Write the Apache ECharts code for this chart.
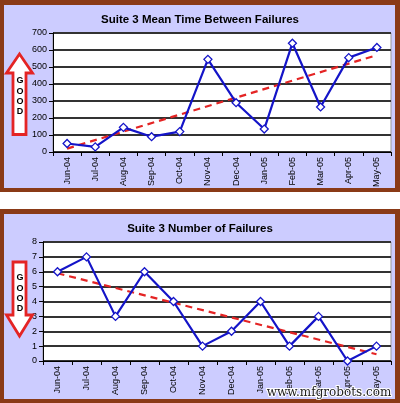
<!DOCTYPE html>
<html><head><meta charset="utf-8">
<script src="https://cdn.jsdelivr.net/npm/echarts@6/dist/echarts.min.js"></script>
<style>html,body{margin:0;padding:0;background:#fff}#c{width:400px;height:403px}</style>
</head><body><div id="c"></div>
<script>
const categories = ['Jun-04','Jul-04','Aug-04','Sep-04','Oct-04','Nov-04','Dec-04','Jan-05','Feb-05','Mar-05','Apr-05','May-05'];
const mtbf = [50,30,145,90,120,545,290,135,640,265,555,615];
const failures = [6,7,3,6,4,1,2,4,1,3,0,1];
const mtbfTrend = [20, 570];   // trendline value at first and last month
const failTrend = [5.9, 0.45]; // trendline value at first and last month
const mtbfTicks = [0,100,200,300,400,500,600,700];
const failTicks = [0,1,2,3,4,5,6,7,8];
const titles = ['Suite 3 Mean Time Between Failures','Suite 3 Number of Failures'];

const chart = echarts.init(document.getElementById('c'), null, {renderer:'canvas'});
const BROWN = '#8a3a17', LAV = '#ccccff', RED = '#e42424', BLUE = '#1414c8';
function xAxis(gi){
  return {type:'category', gridIndex:gi, data:categories, boundaryGap:true,
    axisLine:{lineStyle:{color:'#000',width:1}},
    axisTick:{show:true, alignWithLabel:false, length:4, lineStyle:{color:'#000'}},
    axisLabel:{rotate:90, fontSize:9, color:'#000', fontFamily:'Liberation Sans, Arial', margin:5, interval:0},
    splitLine:{show:false}};
}
function yAxis(gi, ticks){
  return {type:'value', gridIndex:gi, min:ticks[0], max:ticks[ticks.length-1], interval:ticks[1]-ticks[0],
    axisLine:{show:true, lineStyle:{color:'#000'}},
    axisTick:{show:true, length:4, lineStyle:{color:'#000'}},
    axisLabel:{fontSize:9, color:'#000', fontFamily:'Liberation Sans, Arial', margin:6},
    splitLine:{show:true, lineStyle:{color:'#333', width:1.8}}};
}
function lineSeries(gi, data){
  return {type:'line', xAxisIndex:gi, yAxisIndex:gi, data:data, symbol:'diamond', symbolSize:8,
    lineStyle:{color:BLUE, width:2.2}, itemStyle:{color:'#fff', borderColor:BLUE, borderWidth:1.3},
    z:3, animation:false};
}
function trendSeries(gi, tr){
  return {type:'line', xAxisIndex:gi, yAxisIndex:gi,
    data:[[categories[0], tr[0]], [categories[categories.length-1], tr[1]]],
    symbol:'none', lineStyle:{color:RED, width:2.2, type:[7,5]}, z:2, animation:false};
}
function goodText(x, y0){
  return ['G','O','O','D'].map((ch,i)=>({type:'text', z:101, style:{text:ch, x:x, y:y0+i*10.3,
    fill:'#000', font:'bold 9px Liberation Sans, Arial', textAlign:'center', textVerticalAlign:'middle'}}));
}
chart.setOption({
  animation:false,
  grid:[
    {left:53, right:9, top:33, height:119, show:true, backgroundColor:'#fff', borderColor:'#999', borderWidth:1},
    {left:43, right:9, top:242, height:119, show:true, backgroundColor:'#fff', borderColor:'#999', borderWidth:1}
  ],
  xAxis:[xAxis(0), xAxis(1)],
  yAxis:[yAxis(0, mtbfTicks), yAxis(1, failTicks)],
  series:[trendSeries(0, mtbfTrend), lineSeries(0, mtbf), trendSeries(1, failTrend), lineSeries(1, failures)],
  graphic:[
    {type:'rect', z:-100, shape:{x:0,y:0,width:400,height:192}, style:{fill:BROWN}},
    {type:'rect', z:-99, shape:{x:4,y:5,width:391,height:183}, style:{fill:LAV}},
    {type:'rect', z:-100, shape:{x:0,y:209,width:400,height:194}, style:{fill:BROWN}},
    {type:'rect', z:-99, shape:{x:4,y:214,width:391,height:185}, style:{fill:LAV}},
    {type:'text', z:100, style:{text:titles[0], x:200, y:20, fill:'#000', font:'bold 11.5px Liberation Sans, Arial', textAlign:'center', textVerticalAlign:'middle'}},
    {type:'text', z:100, style:{text:titles[1], x:200, y:229, fill:'#000', font:'bold 11.5px Liberation Sans, Arial', textAlign:'center', textVerticalAlign:'middle'}},
    {type:'polygon', z:100, shape:{points:[[19.5,54],[32.5,73],[26,73],[26,134.5],[13,134.5],[13,73],[6.5,73]]}, style:{fill:'#fff', stroke:RED, lineWidth:2.8}},
    {type:'polygon', z:100, shape:{points:[[13,262],[26,262],[26,315],[32.5,315],[19.5,336],[6.5,315],[13,315]]}, style:{fill:'#fff', stroke:RED, lineWidth:2.8}},
    ...goodText(20, 81),
    ...goodText(20, 278),
    {type:'text', z:102, style:{text:'www.mfgrobots.com', x:329, y:393, fill:'#222', stroke:'#fff', lineWidth:2,
      font:'12px DejaVu Serif, Liberation Serif, serif', textAlign:'center', textVerticalAlign:'middle'}}
  ]
});
</script></body></html>
